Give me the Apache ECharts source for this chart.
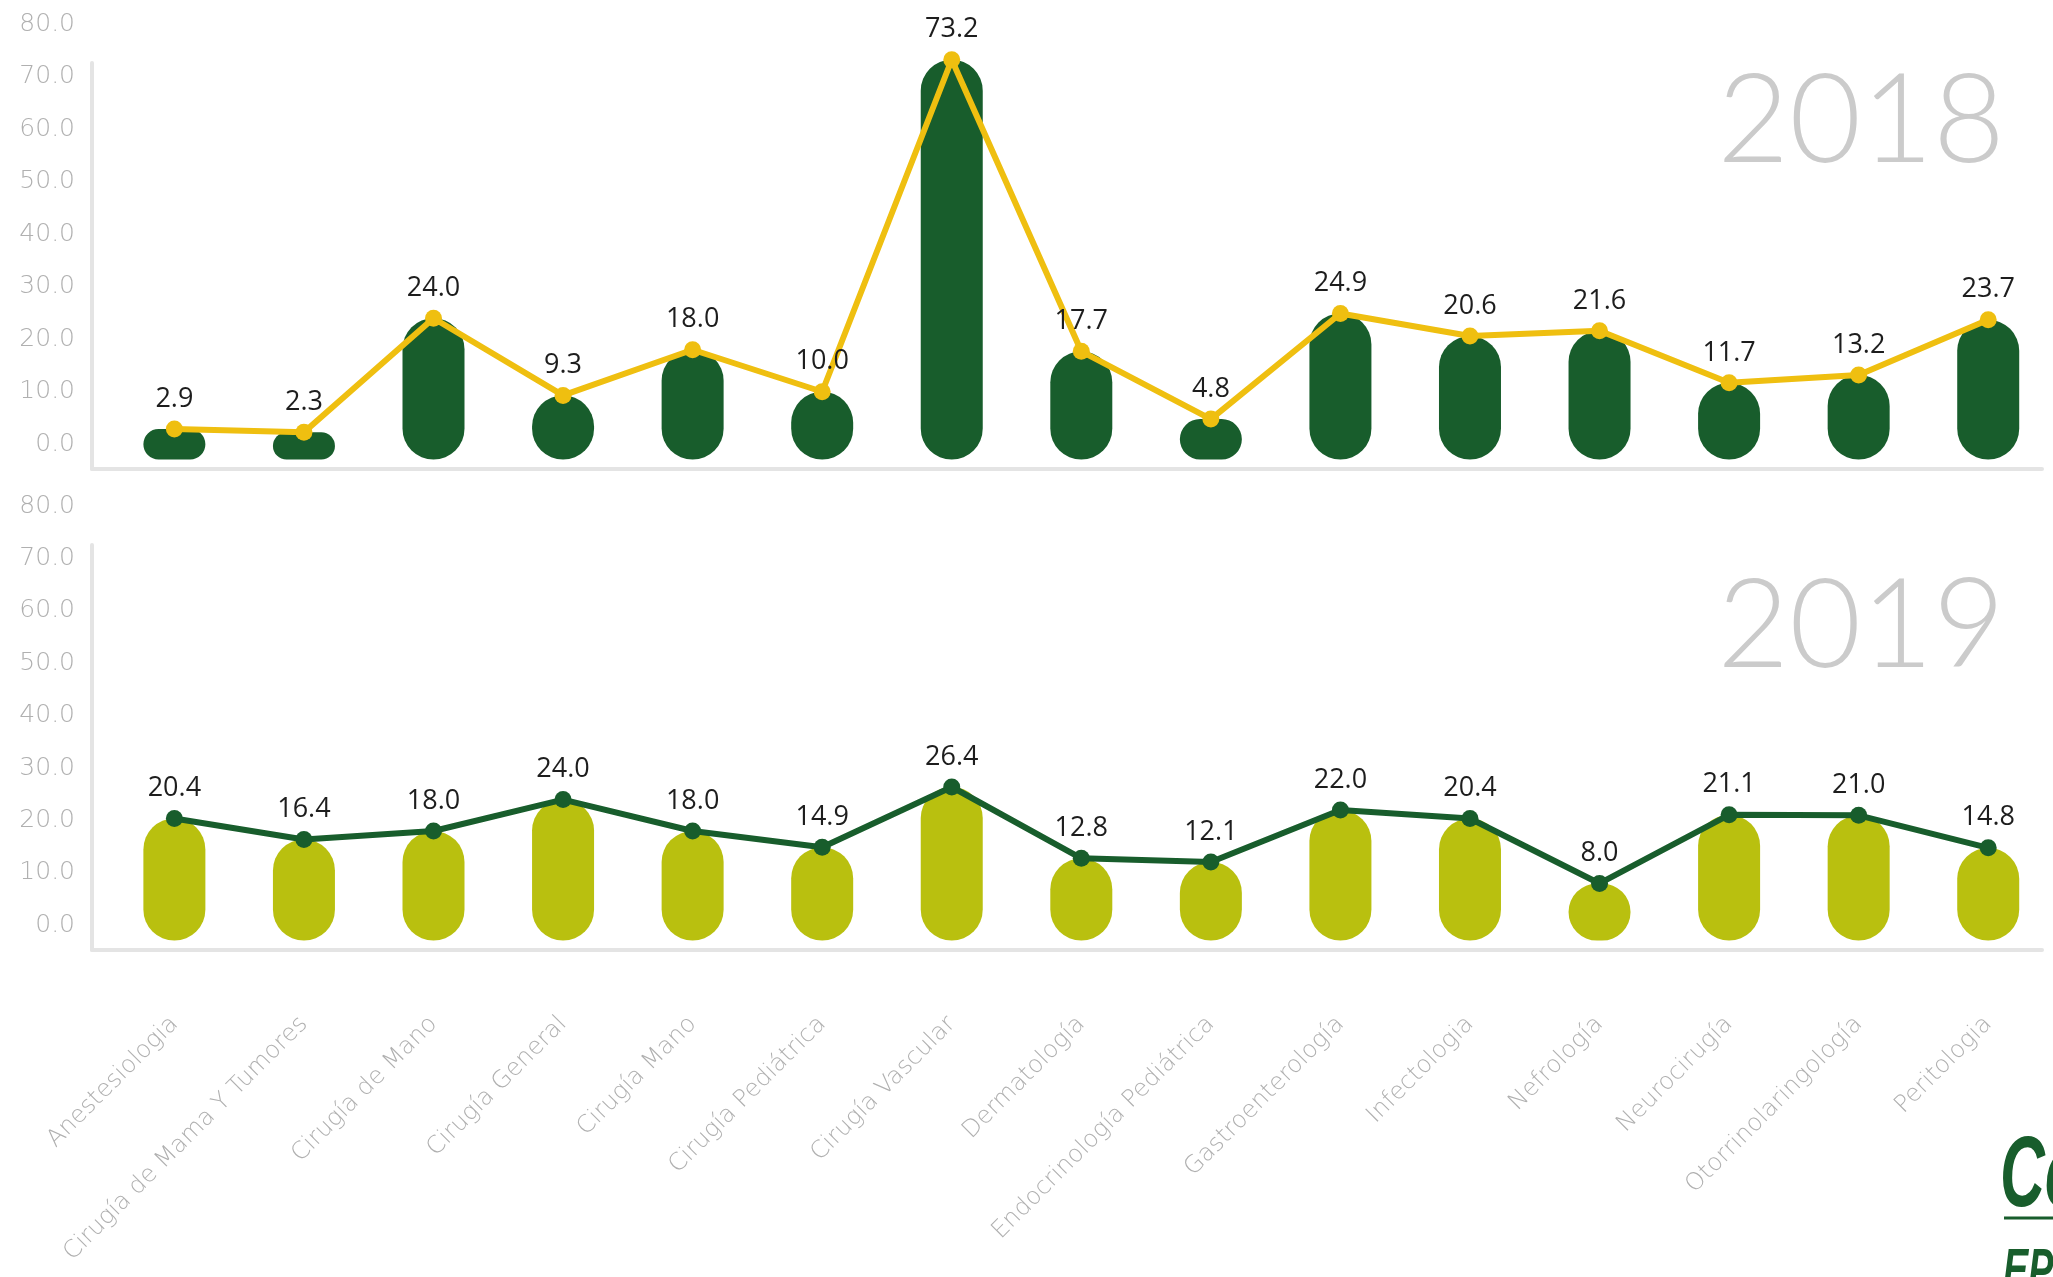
<!DOCTYPE html>
<html>
<head>
<meta charset="utf-8">
<script src="https://cdn.jsdelivr.net/npm/echarts@6/dist/echarts.min.js"></script>
<style>
  html, body { margin: 0; padding: 0; background: #ffffff; }
  #chart { width: 2053px; height: 1277px; }
</style>
</head>
<body>
<div id="chart"></div>
<script>
// ---- data ----
const categories = [
  'Anestesiologia', 'Cirugía de Mama Y Tumores', 'Cirugía de Mano', 'Cirugía General',
  'Cirugía Mano', 'Cirugía Pediátrica', 'Cirugía Vascular', 'Dermatología',
  'Endocrinología Pediátrica', 'Gastroenterología', 'Infectologia', 'Nefrología',
  'Neurocirugía', 'Otorrinolaringología', 'Peritologia'
];
const values2018 = [2.9, 2.3, 24.0, 9.3, 18.0, 10.0, 73.2, 17.7, 4.8, 24.9, 20.6, 21.6, 11.7, 13.2, 23.7];
const values2019 = [20.4, 16.4, 18.0, 24.0, 18.0, 14.9, 26.4, 12.8, 12.1, 22.0, 20.4, 8.0, 21.1, 21.0, 14.8];
const yearLabels = ['2018', '2019'];
const yAxisMin = 0, yAxisMax = 80, yAxisStep = 10;
const logoTexts = ['Co', 'EP'];

// ---- styles ----
const DARK_GREEN = '#185d2c';
const YELLOW = '#efbf10';
const LIME = '#b9c00f';
const AXIS_GREY = '#e4e4e4';
const TICK_GREY = '#b0b0b0';
const LIGHT_FONT = "'DejaVu Sans ExtraLight', 'DejaVu Sans Light', 'DejaVu Sans', sans-serif";
const LOGO_FONT = "'Liberation Sans', Arial, sans-serif";
const BAR_WIDTH = 62;
const BAR_BASE = -2.9;   // capsule bars start slightly below zero

function capsuleSeries(values, color, idx) {
  return {
    type: 'custom',
    xAxisIndex: idx, yAxisIndex: idx,
    clip: false,
    z: 2,
    data: values.map((v, i) => [i, v]),
    renderItem: function (params, api) {
      const top = api.coord([api.value(0), api.value(1)]);
      const base = api.coord([api.value(0), BAR_BASE]);
      return {
        type: 'rect',
        shape: { x: top[0] - BAR_WIDTH / 2, y: top[1], width: BAR_WIDTH, height: base[1] - top[1], r: BAR_WIDTH / 2 },
        style: { fill: color }
      };
    }
  };
}

function lineSeries(values, color, idx) {
  return {
    type: 'line',
    xAxisIndex: idx, yAxisIndex: idx,
    data: values,
    z: 5,
    symbol: 'circle',
    symbolSize: 17,
    lineStyle: { color: color, width: 6 },
    itemStyle: { color: color },
    label: {
      show: true, position: 'top', distance: 8,
      formatter: p => p.value.toFixed(1),
      fontFamily: "'Open Sans', 'Noto Sans', sans-serif",
      fontSize: 27, color: '#1d1d1d'
    }
  };
}

function mainYAxis(idx) {
  return {
    type: 'value', gridIndex: idx,
    min: yAxisMin, max: yAxisMax, interval: yAxisStep,
    offset: 17.6,
    axisLine: { show: false }, axisTick: { show: false }, splitLine: { show: false },
    axisLabel: {
      margin: 17,
      formatter: v => v.toFixed(1),
      fontFamily: LIGHT_FONT,
      fontSize: 25, color: TICK_GREY
    }
  };
}

function frameXAxis(idx) {
  return {
    type: 'value', gridIndex: idx, min: 0, max: 1,
    axisLine: { show: true, onZero: false, lineStyle: { color: AXIS_GREY, width: 4 } },
    axisTick: { show: false }, axisLabel: { show: false }, splitLine: { show: false }
  };
}
function frameYAxis(idx) {
  return {
    type: 'value', gridIndex: idx, min: 0, max: 1,
    axisLine: { show: true, onZero: false, lineStyle: { color: AXIS_GREY, width: 4 } },
    axisTick: { show: false }, axisLabel: { show: false }, splitLine: { show: false }
  };
}

const chart = echarts.init(document.getElementById('chart'), null, { renderer: 'canvas' });

const option = {
  backgroundColor: '#ffffff',
  animation: false,
  grid: [
    { left: 109.6, right: -17.4, top: 24, height: 420.3 },   // 2018 plot
    { left: 109.6, right: -17.4, top: 506, height: 419.4 },  // 2019 plot
    { left: 92, right: 11, top: 63, height: 406 },           // 2018 frame lines
    { left: 92, right: 11, top: 545, height: 405 }           // 2019 frame lines
  ],
  xAxis: [
    {
      type: 'category', gridIndex: 0, data: categories,
      axisLine: { show: false }, axisTick: { show: false }, axisLabel: { show: false }, splitLine: { show: false }
    },
    {
      type: 'category', gridIndex: 1, data: categories,
      axisLine: { show: false }, axisTick: { show: false }, splitLine: { show: false },
      axisLabel: {
        interval: 0, rotate: 45, margin: 95,
        fontFamily: LIGHT_FONT,
        fontSize: 24, color: TICK_GREY
      }
    },
    frameXAxis(2),
    frameXAxis(3)
  ],
  yAxis: [mainYAxis(0), mainYAxis(1), frameYAxis(2), frameYAxis(3)],
  series: [
    capsuleSeries(values2018, DARK_GREEN, 0),
    lineSeries(values2018, YELLOW, 0),
    capsuleSeries(values2019, LIME, 1),
    lineSeries(values2019, DARK_GREEN, 1)
  ],
  graphic: [
    {
      type: 'text', right: 48, top: 60, z: 0,
      style: { text: yearLabels[0], fontFamily: "Lato, 'Open Sans', sans-serif", fontWeight: 300, fontSize: 124, fill: '#cbcbcb' }
    },
    {
      type: 'text', right: 48, top: 565, z: 0,
      style: { text: yearLabels[1], fontFamily: "Lato, 'Open Sans', sans-serif", fontWeight: 300, fontSize: 124, fill: '#cbcbcb' }
    },
    {
      type: 'text', x: 2000, y: 1128, scaleX: 0.62,
      style: { text: logoTexts[0], fontFamily: LOGO_FONT, fontWeight: 'bold', fontStyle: 'italic', fontSize: 100, fill: DARK_GREEN }
    },
    {
      type: 'line', shape: { x1: 2004, y1: 1218, x2: 2053, y2: 1218 },
      style: { stroke: DARK_GREEN, lineWidth: 3 }
    },
    {
      type: 'text', x: 2003, y: 1244, scaleX: 0.65,
      style: { text: logoTexts[1], fontFamily: LOGO_FONT, fontWeight: 'bold', fontStyle: 'italic', fontSize: 58, fill: DARK_GREEN }
    }
  ]
};

chart.setOption(option);
</script>
</body>
</html>
